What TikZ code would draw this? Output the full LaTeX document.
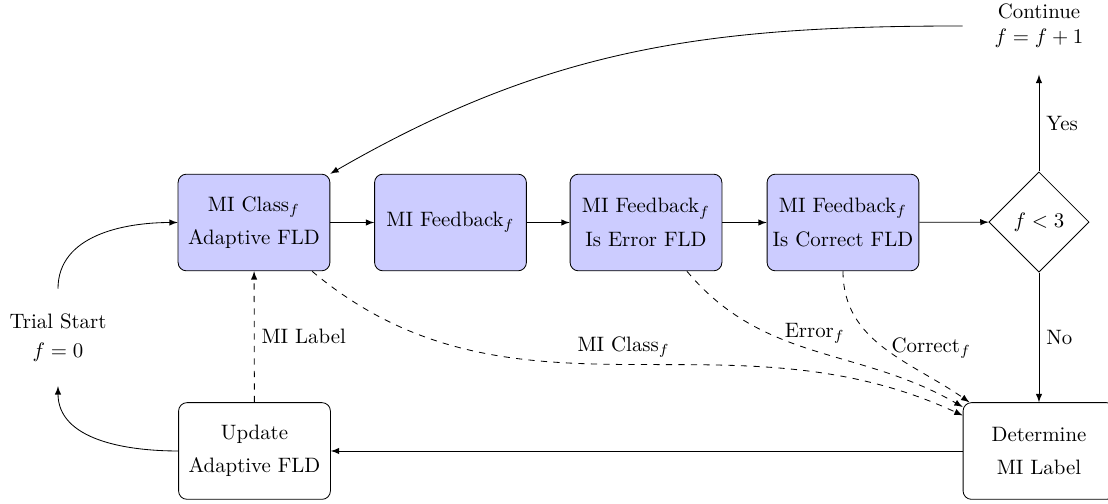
\documentclass[tikz,border=0pt]{standalone}
\usetikzlibrary{arrows.meta, positioning, shapes.geometric}
\usepackage{amssymb}
\usepackage{amsmath}

\begin{document}
\begin{tikzpicture}[>=latex,
		proc/.style={draw, fill=blue!20, rounded corners, align=center, minimum width=2.56cm, minimum height=1.63cm, inner sep=1pt},
		term/.style={align=center, minimum width=2.56cm, minimum height=1.63cm, inner sep=1pt},
		cond/.style={draw, diamond, aspect=1, minimum size=1.69cm, inner sep=0pt}]
	\useasboundingbox (0,0) rectangle (18.685,-8.499);
	\clip (0,0) rectangle (18.685,-8.499);

	\node[term] (start) at (0.978,-5.691) {Trial Start\\[2pt] $f=0$};
	\node[term] (cont) at (17.521,-0.438) {Continue\\ $f=f+1$};

	\node[proc] (cls) at (4.283,-3.752) {MI Class$_f$\\[4pt] Adaptive FLD};
	\node[proc] (fb) at (7.597,-3.752) {MI Feedback$_f$};
	\node[proc] (err) at (10.894,-3.752) {MI Feedback$_f$\\[4pt] Is Error FLD};
	\node[proc] (cor) at (14.216,-3.752) {MI Feedback$_f$\\[4pt] Is Correct FLD};
	\node[cond] (dec) at (17.521,-3.744) {$f<3$};

	\node[proc, fill=white] (upd) at (4.292,-7.605) {Update\\[4pt] Adaptive FLD};
	\node[proc, fill=white] (det) at (17.521,-7.605) {Determine\\[4pt] MI Label};

	% main loop
	\draw[->] (start) to[out=90, in=180] (cls);
	\draw[->] (cls) -- (fb);
	\draw[->] (fb) -- (err);
	\draw[->] (err) -- (cor);
	\draw[->] (cor) -- (dec);
	\draw[->] (dec) -- node[right] {Yes} (cont);
	\draw[->] (cont) to[out=180, in=30] (cls.north east);
	\draw[->] (dec) -- node[right] {No} (det);
	\draw[->] (det) -- (upd);
	\draw[->] (upd) to[out=180, in=-90] (start);

	% labels passed on
	\draw[->, dashed] (upd) -- node[right] {MI Label} (cls);
	\draw[->, dashed] (cls) to[out=-40, in=155] node[midway, above] {MI Class$_f$} (det);
	\draw[->, dashed] (err) to[out=-50, in=150] node[midway, above] {Error$_f$} (det);
	\draw[->, dashed] (cor) to[out=-90, in=145] node[midway, right] {Correct$_f$} (det);

\end{tikzpicture}
\end{document}
